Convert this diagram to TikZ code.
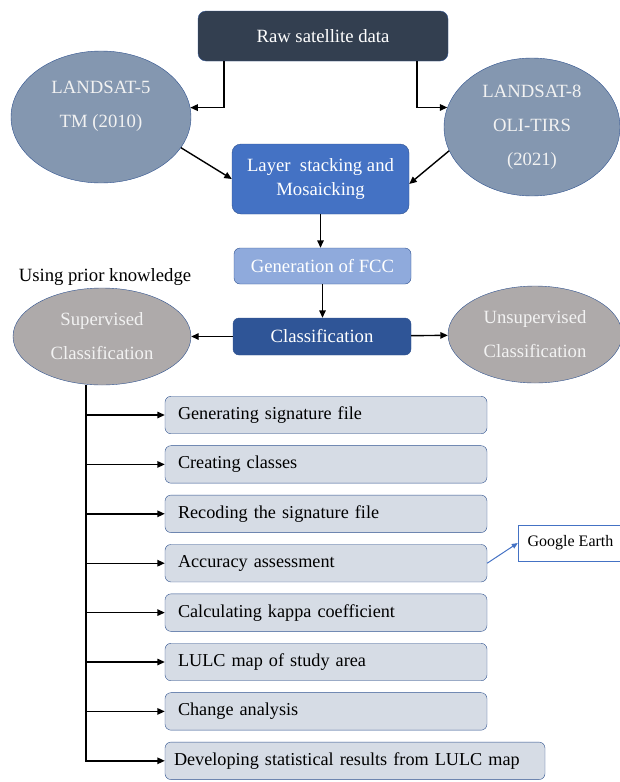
\documentclass[tikz,border=0pt]{standalone}
\usepackage{fontspec}
\setmainfont{Liberation Serif}
\usepackage{tikz}
\usetikzlibrary{arrows.meta,positioning,shapes.geometric}

\definecolor{rawcol}{HTML}{333F50}
\definecolor{satcol}{HTML}{8497B0}
\definecolor{laycol}{HTML}{4472C4}
\definecolor{fcccol}{HTML}{8FAADC}
\definecolor{clscol}{HTML}{2F5597}
\definecolor{greycol}{HTML}{AEAAAA}
\definecolor{stepcol}{HTML}{D6DCE5}
\definecolor{edgecol}{HTML}{2F528F}

\begin{document}
\begin{tikzpicture}[
  x=1pt, y=-1pt,
  font=\fontsize{18.7}{23}\selectfont,
  box/.style={draw=edgecol, rounded corners=6pt, align=center, text=white, inner sep=2pt},
  oval/.style={ellipse, draw=edgecol, align=center, text=white!95!black, inner sep=0pt, font=\fontsize{18.7}{34}\selectfont},
  stepbox/.style={draw=edgecol, fill=stepcol, rounded corners=6pt, align=left, text width=296pt, minimum height=37.5pt, inner xsep=13pt, inner ysep=0pt, font=\fontsize{18.2}{22}\selectfont},
  arr/.style={-{Triangle[length=7.5pt,width=6.5pt]}, line width=1.4pt},
  node distance=11.5pt
]
\useasboundingbox (0,0) rectangle (619,782);

% sources
\node[box, fill=rawcol, minimum width=250pt, minimum height=50pt, rounded corners=8pt] (raw) at (323,36) {Raw satellite data};
\node[oval, fill=satcol, minimum width=180pt, minimum height=132pt] (ls5) at (101,117) {LANDSAT-5\\TM (2010)\\[-8pt]\mbox{}};
\node[oval, fill=satcol, minimum width=176pt, minimum height=138pt] (ls8) at (532,127) {LANDSAT-8\\OLI-TIRS\\(2021)};

% preprocessing and classification
\node[box, fill=laycol, minimum width=177pt, minimum height=70pt, rounded corners=9pt, font=\fontsize{18.7}{24}\selectfont] (layer) at (320.5,179) {Layer~ stacking and\\Mosaicking};
\node[box, fill=fcccol, minimum width=177pt, minimum height=36pt] (fcc) at (322.5,266) {Generation of FCC};
\node[box, fill=clscol, minimum width=178pt, minimum height=37pt] (cls) at (322,336.5) {Classification};
\node[oval, fill=greycol, minimum width=178pt, minimum height=97pt] (sup) at (102,336.5) {Supervised\\Classification};
\node[oval, fill=greycol, minimum width=174pt, minimum height=97pt] (unsup) at (535,334.5) {Unsupervised\\Classification};
\node (prior) at (105,277) {Using prior knowledge};

% supervised steps
\node[stepbox] (g1) at (326,415) {Generating signature file};
\node[stepbox, below=of g1] (g2) {Creating classes};
\node[stepbox, below=of g2] (g3) {Recoding the signature file};
\node[stepbox, below=of g3] (g4) {Accuracy assessment};
\node[stepbox, below=of g4] (g5) {Calculating kappa coefficient};
\node[stepbox, below=of g5] (g6) {LULC map of study area};
\node[stepbox, below=of g6] (g7) {Change analysis};
\node[stepbox, text width=362pt, inner xsep=9pt, below=of g7.south west, anchor=north west] (g8) {Developing statistical results from LULC map};
\node[draw=laycol, fill=white, font=\fontsize{16}{19}\selectfont, minimum width=105pt, minimum height=36pt] (ge) at (570.5,543) {Google Earth};

% connectors
\draw[arr] ([xshift=-99pt]raw.south) |- (ls5.6);
\draw[arr] ([xshift=94pt]raw.south) |- (ls8.167);
\draw[arr] (ls5.-21) -- (layer.west);
\draw[arr] (ls8.196) -- ([yshift=-5pt]layer.east);
\draw[arr] (layer.south) -- (layer.south |- fcc.north);
\draw[arr] (fcc.south) -- (fcc.south |- cls.north);
\draw[arr] (cls) -- (sup);
\draw[arr] (cls) -- (unsup);

\coordinate (trunk) at ([xshift=-16pt]sup.south);
\draw[arr] (trunk) |- (g8.west);
\draw[arr] (trunk |- g1.west) -- (g1.west);
\draw[arr] (trunk |- g2.west) -- (g2.west);
\draw[arr] (trunk |- g3.west) -- (g3.west);
\draw[arr] (trunk |- g4.west) -- (g4.west);
\draw[arr] (trunk |- g5.west) -- (g5.west);
\draw[arr] (trunk |- g6.west) -- (g6.west);
\draw[arr] (trunk |- g7.west) -- (g7.west);
\draw[-{Triangle[length=6pt,width=5pt]}, draw=laycol, line width=1pt] (g4.east) -- (ge.west);
\end{tikzpicture}
\end{document}
